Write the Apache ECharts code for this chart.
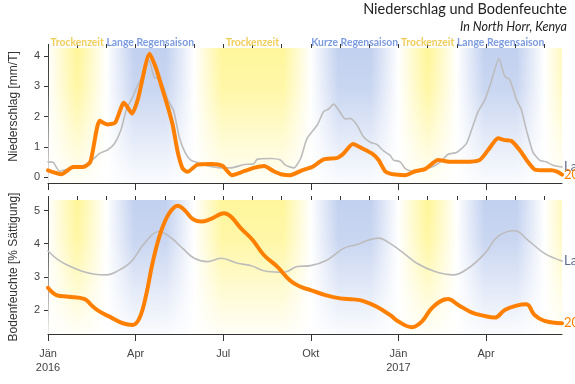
<!DOCTYPE html>
<html>
<head>
<meta charset="utf-8">
<script src="https://cdn.jsdelivr.net/npm/echarts@6/dist/echarts.min.js"></script>
<style>
html,body{margin:0;padding:0;background:#fff;}
#chart{width:575px;height:384px;}
</style>
</head>
<body>
<div id="chart"></div>
<script>
// ---- Data (x = months since 1 Jan 2016) ----
const tickValues = [0, 3, 6, 9, 12, 15];
const tickLabels = ['Jän\n2016', 'Apr', 'Jul', 'Okt', 'Jän\n2017', 'Apr'];
const monthTicks = [0,1,2,3,4,5,6,7,8,9,10,11,12,13,14,15,16,17];

const seasonNames = ['Trockenzeit', 'Lange Regensaison', 'Trockenzeit', 'Kurze Regensaison', 'Trockenzeit', 'Lange Regensaison', ''];
const seasonTypes = ['dry', 'wet', 'dry', 'wet', 'dry', 'wet', 'dry'];
const seasonStart = [0, 2, 5, 9, 12, 14, 17];
const seasonEnd   = [2, 5, 9, 12, 14, 17, 21];

const rainObsX = [0, 0.46, 0.86, 1.2, 1.45, 1.77, 2.03, 2.3, 2.6, 2.88, 3.08, 3.48, 3.7, 3.87, 4.1, 4.27, 4.44, 4.61, 4.78, 5.12, 5.58, 5.97, 6.3, 6.71, 7.05, 7.4, 7.73, 8.02, 8.3, 8.7, 9.04, 9.44, 9.9, 10.12, 10.44, 10.75, 11.09, 11.32, 11.54, 11.71, 11.89, 12.23, 12.57, 12.91, 13.36, 13.82, 14.27, 14.78, 15.07, 15.41, 15.64, 15.87, 16.15, 16.43, 16.66, 17.0, 17.23, 17.45, 17.6];
const rainObs  = [0.22, 0.09, 0.33, 0.33, 0.5, 1.86, 1.74, 1.8, 2.46, 2.1, 2.58, 4.08, 3.6, 3.06, 2.33, 1.72, 0.83, 0.28, 0.17, 0.41, 0.43, 0.37, 0.06, 0.19, 0.3, 0.36, 0.19, 0.08, 0.06, 0.22, 0.33, 0.58, 0.63, 0.78, 1.09, 0.95, 0.78, 0.56, 0.19, 0.11, 0.08, 0.06, 0.19, 0.26, 0.56, 0.5, 0.5, 0.56, 0.89, 1.28, 1.22, 1.19, 0.89, 0.5, 0.25, 0.22, 0.22, 0.17, 0.08];

const rainMeanX = [0, 0.18, 0.4, 0.69, 1.03, 1.37, 1.77, 2.05, 2.28, 2.5, 2.68, 2.9, 3.08, 3.3, 3.45, 3.64, 3.85, 4.1, 4.3, 4.5, 4.7, 4.89, 5.12, 5.46, 5.92, 6.26, 6.71, 7.05, 7.17, 7.62, 7.96, 8.13, 8.42, 8.65, 8.87, 9.22, 9.44, 9.61, 9.78, 9.95, 10.18, 10.35, 10.58, 10.8, 11.03, 11.26, 11.49, 11.71, 11.83, 12.06, 12.23, 12.46, 12.8, 13.14, 13.42, 13.7, 13.99, 14.33, 14.56, 14.73, 14.96, 15.18, 15.44, 15.64, 15.81, 16.04, 16.21, 16.38, 16.6, 16.83, 17.06, 17.28, 17.6];
const rainMean  = [0.5, 0.48, 0.19, 0.26, 0.33, 0.44, 0.78, 0.9, 1.11, 1.56, 2.22, 2.65, 3.06, 3.45, 3.89, 3.3, 3.25, 2.56, 2.2, 1.3, 0.8, 0.56, 0.48, 0.37, 0.3, 0.3, 0.41, 0.44, 0.59, 0.61, 0.56, 0.39, 0.3, 0.61, 1.28, 1.72, 2.17, 2.25, 2.41, 2.22, 1.92, 1.94, 1.72, 1.33, 1.15, 1.08, 0.86, 0.72, 0.56, 0.5, 0.28, 0.19, 0.26, 0.33, 0.48, 0.75, 0.81, 1.11, 1.72, 2.17, 2.56, 3.17, 3.92, 3.33, 3.22, 2.56, 2.22, 1.56, 0.83, 0.56, 0.5, 0.39, 0.33];

const soilObsX = [0, 0.29, 0.69, 1.26, 1.48, 1.77, 2.17, 2.56, 2.9, 3.13, 3.36, 3.59, 3.87, 4.15, 4.44, 4.67, 4.95, 5.24, 5.58, 6.03, 6.26, 6.6, 7.0, 7.39, 7.85, 8.3, 8.65, 8.99, 9.5, 10.01, 10.46, 10.8, 11.26, 11.71, 12.0, 12.46, 12.8, 13.19, 13.7, 14.05, 14.5, 14.9, 15.3, 15.64, 16.04, 16.38, 16.66, 17.0, 17.6];
const soilObs  = [2.67, 2.45, 2.40, 2.33, 2.15, 1.95, 1.77, 1.6, 1.55, 1.75, 2.45, 3.46, 4.37, 4.92, 5.15, 5.02, 4.75, 4.67, 4.75, 4.92, 4.82, 4.47, 4.12, 3.66, 3.31, 2.88, 2.70, 2.60, 2.45, 2.35, 2.32, 2.27, 2.10, 1.85, 1.65, 1.48, 1.65, 2.1, 2.33, 2.15, 1.93, 1.83, 1.77, 2.0, 2.13, 2.17, 1.85, 1.67, 1.60];

const soilMeanX = [0, 0.35, 0.69, 1.14, 1.6, 2.0, 2.39, 2.85, 3.3, 3.81, 4.21, 4.61, 5.01, 5.46, 5.92, 6.49, 6.94, 7.51, 8.08, 8.53, 8.99, 9.56, 10.12, 10.58, 10.98, 11.32, 11.71, 12.11, 12.63, 13.25, 13.87, 14.39, 14.96, 15.41, 15.98, 16.43, 17.0, 17.6];
const soilMean  = [3.78, 3.51, 3.34, 3.18, 3.08, 3.06, 3.18, 3.46, 4.01, 4.37, 4.18, 3.86, 3.56, 3.46, 3.56, 3.41, 3.34, 3.16, 3.14, 3.31, 3.34, 3.51, 3.86, 3.98, 4.11, 4.17, 4.01, 3.76, 3.41, 3.16, 3.06, 3.26, 3.71, 4.22, 4.39, 4.11, 3.71, 3.48];

const rainTicks = [0, 1, 2, 3, 4];
const soilTicks = [2, 3, 4, 5];

// ---- Presentation ----
const xMax = 17.6;
const ORANGE = '#ff8000';
const GREY = '#bcbcbc';
const AXIS = '#333';
const FONT = '"Liberation Sans", Arial, sans-serif';
const LATO = 'Lato, "Open Sans", sans-serif';
const seasonRGB = { dry: [255, 240, 90], wet: [150, 175, 228] };
const seasonAlpha = { dry: 0.6, wet: 0.58 };
const seasonText = { dry: '#f0cd58', wet: '#7c9be0' };
const RAMP = 0.95;

function zip(xs, ys) { return xs.map((x, i) => [x, ys[i]]); }

function bandGradient(type, s, e) {
  const ve = Math.min(e, xMax), w = ve - s;
  const rgb = seasonRGB[type], pa = seasonAlpha[type];
  const alphaAt = x => Math.max(0, Math.min(1, (x - s) / RAMP, (e - x) / RAMP));
  let pts = [s, s + RAMP, (s + e) / 2, e - RAMP, e, ve].filter(x => x >= s - 1e-9 && x <= ve + 1e-9);
  pts = Array.from(new Set(pts.map(p => +p.toFixed(6)))).sort((a, b) => a - b);
  return {
    type: 'linear', x: 0, y: 0, x2: 1, y2: 0,
    colorStops: pts.map(x => ({ offset: (x - s) / w, color: `rgba(${rgb[0]},${rgb[1]},${rgb[2]},${(pa * alphaAt(x)).toFixed(3)})` }))
  };
}

const fadeColor = { type: 'linear', x: 0, y: 0, x2: 0, y2: 1, colorStops: [
  { offset: 0, color: 'rgba(255,255,255,0)' },
  { offset: 0.3, color: 'rgba(255,255,255,0.12)' },
  { offset: 1, color: 'rgba(255,255,255,0.92)' }
] };

function bandSeries(xi, yi, withLabels) {
  const areas = seasonNames.map((n, i) => [
    {
      name: withLabels ? n : '',
      xAxis: seasonStart[i],
      itemStyle: { color: bandGradient(seasonTypes[i], seasonStart[i], seasonEnd[i]) },
      label: { show: withLabels && n !== '', position: 'top', distance: 0, color: seasonText[seasonTypes[i]], fontSize: 10.4, fontFamily: LATO, fontWeight: 'bold' }
    },
    { xAxis: Math.min(seasonEnd[i], xMax) }
  ]);
  areas.push([
    { name: '', xAxis: 0, itemStyle: { color: fadeColor }, label: { show: false } },
    { xAxis: xMax }
  ]);
  return {
    type: 'line', xAxisIndex: xi, yAxisIndex: yi, data: [], z: 1, silent: true,
    markArea: { silent: true, data: areas }
  };
}

function xAxes(gi, withLabels) {
  return [
    {
      type: 'value', gridIndex: gi, min: 0, max: xMax,
      axisLine: { show: true, onZero: false, lineStyle: { color: AXIS, width: 1 } },
      axisTick: { show: true, length: 7, customValues: tickValues, lineStyle: { color: AXIS } },
      axisLabel: {
        show: withLabels, customValues: tickValues, margin: 13,
        formatter: v => { const i = tickValues.indexOf(v); return i >= 0 ? tickLabels[i] : ''; },
        color: '#444', fontSize: 11, fontFamily: FONT, lineHeight: 14
      },
      splitLine: { show: false }
    },
    {
      type: 'value', gridIndex: gi, min: 0, max: xMax,
      axisLine: { show: false, onZero: false },
      axisTick: { show: true, length: 4, customValues: monthTicks, lineStyle: { color: AXIS } },
      axisLabel: { show: false },
      splitLine: { show: false }
    }
  ];
}

function yAxis(gi, min, max, ticks, name, pad) {
  return {
    type: 'value', gridIndex: gi, min: min, max: max,
    name: name, nameLocation: 'middle', nameGap: 28,
    nameTextStyle: { color: '#333', fontSize: 12, fontFamily: FONT, padding: pad },
    axisLine: { show: true, onZero: false, lineStyle: { color: AXIS } },
    axisTick: { show: true, length: 4, customValues: ticks, lineStyle: { color: AXIS } },
    axisLabel: { customValues: ticks, color: '#444', fontSize: 11, fontFamily: FONT, margin: 8 },
    splitLine: { show: false }
  };
}

function dataSeries(xi, yi, data, color, width, smooth, labelText, labelColor) {
  return {
    type: 'line', xAxisIndex: xi, yAxisIndex: yi, data: data, z: 5,
    showSymbol: false, symbol: 'none', smooth: smooth,
    lineStyle: { color: color, width: width, join: 'round', cap: 'round' },
    endLabel: { show: true, formatter: labelText, color: labelColor, fontSize: 13, fontFamily: LATO, distance: 2 },
    animation: false
  };
}

const chart = echarts.init(document.getElementById('chart'), null, { renderer: 'canvas' });
chart.setOption({
  animation: false,
  backgroundColor: '#fff',
  title: [
    {
      text: 'Niederschlag und Bodenfeuchte',
      right: 8, top: 2, padding: 0,
      textStyle: { fontSize: 14.5, fontWeight: 'normal', color: '#222', fontFamily: LATO }
    },
    {
      text: 'In North Horr, Kenya',
      right: 8, top: 20, padding: 0,
      textStyle: { fontSize: 12.5, fontStyle: 'italic', fontWeight: 'normal', color: '#222', fontFamily: LATO }
    }
  ],
  grid: [
    { left: 46, right: 13, top: 48, height: 135 },
    { left: 46, right: 13, top: 200, height: 134 }
  ],
  xAxis: [].concat(xAxes(0, false), xAxes(1, true)),
  yAxis: [
    yAxis(0, -0.2, 4.27, rainTicks, 'Niederschlag [mm/T]', [0, 0, 0, 18]),
    yAxis(1, 1.275, 5.32, soilTicks, 'Bodenfeuchte [% Sättigung]', [0, 0, 0, 0])
  ],
  series: [
    bandSeries(0, 0, true),
    bandSeries(2, 1, false),
    dataSeries(0, 0, zip(rainMeanX, rainMean), GREY, 1.6, 0.2, 'Langzeitmittel', '#5d6b8c'),
    dataSeries(0, 0, zip(rainObsX, rainObs), ORANGE, 4, 0.2, '2016/2017', ORANGE),
    dataSeries(2, 1, zip(soilMeanX, soilMean), GREY, 1.6, 0.4, 'Langzeitmittel', '#5d6b8c'),
    dataSeries(2, 1, zip(soilObsX, soilObs), ORANGE, 4, 0.4, '2016/2017', ORANGE)
  ]
});
</script>
</body>
</html>
